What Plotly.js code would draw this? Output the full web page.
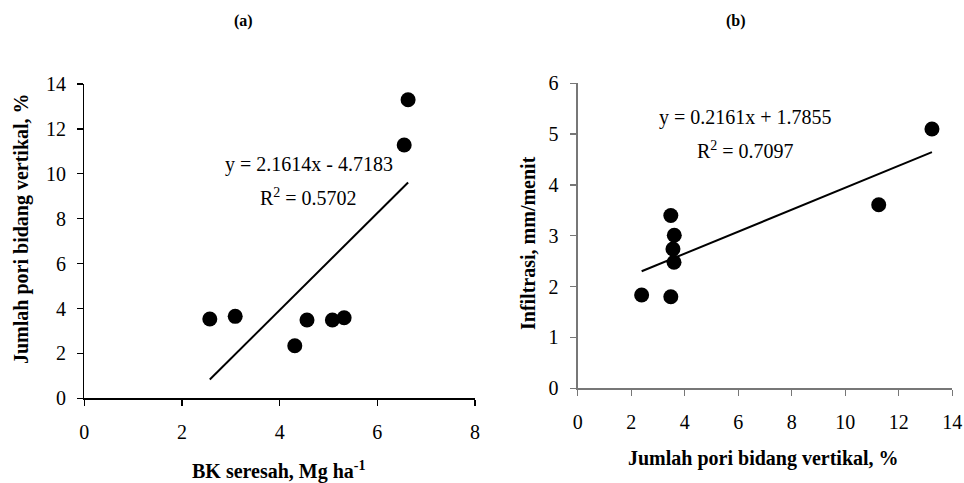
<!DOCTYPE html>
<html>
<head>
<meta charset="utf-8">
<script src="https://cdn.plot.ly/plotly-3.0.1.min.js"></script>
<style>
html,body{margin:0;padding:0;background:#fff;}
#chart{width:964px;height:483px;}
</style>
</head>
<body>
<div id="chart"></div>
<script>
// Panel (a): BK seresah vs Jumlah pori bidang vertikal
const bkSeresah = [2.57, 3.09, 4.31, 4.56, 5.08, 5.32, 6.55, 6.63];
const poriA = [3.53, 3.65, 2.34, 3.49, 3.49, 3.59, 11.28, 13.30];
const fitA = {slope: 2.1614, intercept: -4.7183};
const eqA = ["y = 2.1614x - 4.7183", "R<sup>2</sup> = 0.5702"];

// Panel (b): Jumlah pori bidang vertikal vs Infiltrasi
const poriB = [2.39, 3.48, 3.48, 3.61, 3.56, 3.60, 11.25, 13.24];
const infiltrasi = [1.835, 1.80, 3.40, 3.01, 2.74, 2.48, 3.61, 5.10];
const fitB = {slope: 0.2161, intercept: 1.7855};
const eqB = ["y = 0.2161x + 1.7855", "R<sup>2</sup> = 0.7097"];

const xTicksA = [0, 2, 4, 6, 8];
const yTicksA = [0, 2, 4, 6, 8, 10, 12, 14];
const xTicksB = [0, 2, 4, 6, 8, 10, 12, 14];
const yTicksB = [0, 1, 2, 3, 4, 5, 6];

const W = 964, H = 483;
const px = v => v / W;
const py = v => 1 - v / H;

function fitLine(xs, fit) {
  const x0 = Math.min(...xs), x1 = Math.max(...xs);
  return {x: [x0, x1], y: [fit.slope * x0 + fit.intercept, fit.slope * x1 + fit.intercept]};
}
const lA = fitLine(bkSeresah, fitA);
const lB = fitLine(poriB, fitB);

const serif = "Liberation Serif, Times New Roman, serif";
const tickFont = {family: serif, size: 20, color: "#000"};

const traces = [
  {x: lA.x, y: lA.y, xaxis: "x", yaxis: "y", mode: "lines", line: {color: "#000", width: 2}, hoverinfo: "skip"},
  {x: bkSeresah, y: poriA, xaxis: "x", yaxis: "y", mode: "markers", marker: {color: "#000", size: 15}},
  {x: lB.x, y: lB.y, xaxis: "x2", yaxis: "y2", mode: "lines", line: {color: "#000", width: 2}, hoverinfo: "skip"},
  {x: poriB, y: infiltrasi, xaxis: "x2", yaxis: "y2", mode: "markers", marker: {color: "#000", size: 15}}
];

function axis(opts) {
  return Object.assign({
    showgrid: false, zeroline: false, showline: true, linewidth: 1.3,
    ticks: "outside", ticklen: 6, tickwidth: 1.3, tickfont: tickFont,
    tickmode: "array", fixedrange: true
  }, opts);
}

const ann = [];
function txt(x, y, text, opts) {
  ann.push(Object.assign({xref: "paper", yref: "paper", x: px(x), y: py(y), text: text,
    showarrow: false, xanchor: "center", yanchor: "middle",
    font: {family: serif, size: 20, color: "#000"}}, opts || {}));
}
const titleFont = {family: serif, size: 20, color: "#000"};
txt(243, 21, "<b>(a)</b>", {font: {family: serif, size: 16, color: "#000"}});
txt(736, 21, "<b>(b)</b>", {font: {family: serif, size: 16, color: "#000"}});
txt(308.7, 164, eqA[0]);
txt(308.7, 197, eqA[1]);
txt(745, 117, eqB[0]);
txt(745, 150, eqB[1]);
txt(279, 470, "<b>BK seresah, Mg ha<sup>-1</sup></b>", {font: titleFont});
txt(763, 458, "<b>Jumlah pori bidang vertikal, %</b>", {font: titleFont});
txt(21, 229, "<b>Jumlah pori bidang vertikal, %</b>", {textangle: -90, font: titleFont});
txt(528, 243, "<b>Infiltrasi, mm/menit</b>", {textangle: -90, font: titleFont});

const layout = {
  width: W, height: H,
  margin: {l: 0, r: 0, t: 0, b: 0},
  paper_bgcolor: "#fff", plot_bgcolor: "#fff",
  showlegend: false,
  xaxis: axis({domain: [px(84.3), px(475)], range: [0, 8], anchor: "y",
    tickvals: xTicksA, ticktext: xTicksA.map(String), linecolor: "#000", tickcolor: "#000", ticklabelstandoff: 9}),
  yaxis: axis({domain: [py(398.3), py(84)], range: [0, 14], anchor: "x",
    tickvals: yTicksA, ticktext: yTicksA.map(String), linecolor: "#000", tickcolor: "#000", ticklabelstandoff: 7}),
  xaxis2: axis({domain: [px(577.7), px(952.3)], range: [0, 14], anchor: "y2",
    tickvals: xTicksB, ticktext: xTicksB.map(String), linecolor: "#777", tickcolor: "#777", ticklabelstandoff: 9}),
  yaxis2: axis({domain: [py(388.3), py(83.3)], range: [0, 6], anchor: "x2",
    tickvals: yTicksB, ticktext: yTicksB.map(String), linecolor: "#777", tickcolor: "#777", ticklabelstandoff: 8}),
  annotations: ann
};

Plotly.newPlot("chart", traces, layout, {displayModeBar: false, staticPlot: true});
</script>
</body>
</html>
